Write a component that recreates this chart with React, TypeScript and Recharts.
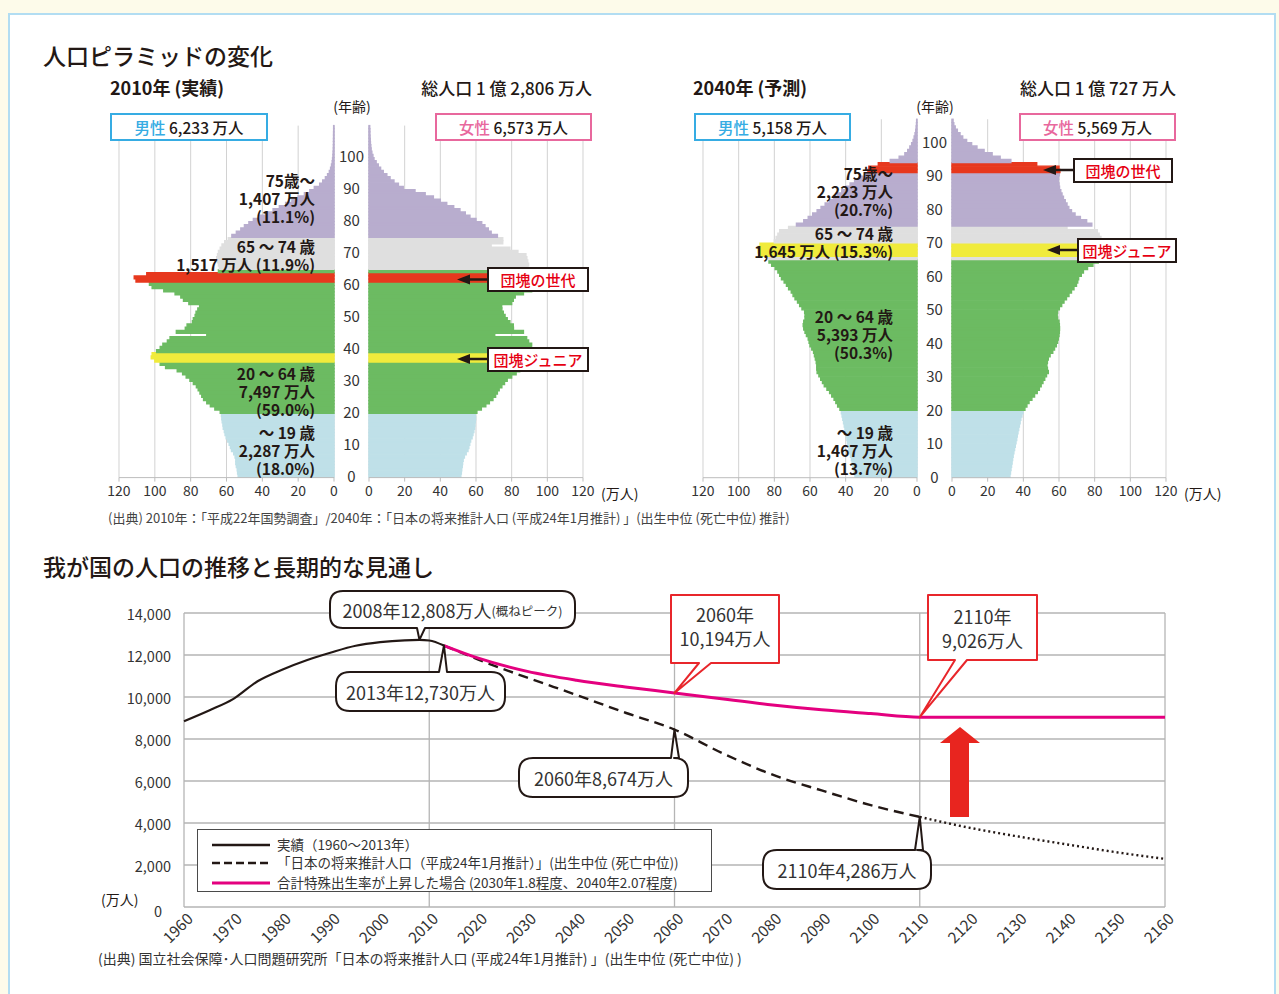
import React from "react";
import {
  Bar,
  BarChart,
  CartesianGrid,
  Cell,
  Line,
  LineChart,
  ReferenceDot,
  ReferenceLine,
  XAxis,
  YAxis,
} from "recharts";

const FONT = '"Noto Sans CJK JP", "Noto Sans", sans-serif';
const INK = "#231815";
const PAGE_W = 1279;

// ---- population pyramid data (万人, single year of age) ----
const AGES_2010 = Array.from({ length: 110 }, (_, i) => i);
const AGES_2040 = Array.from({ length: 107 }, (_, i) => i);

const MALE_2010 = [
  53.5, 53.8, 54.0, 54.5, 54.8, 54.8, 55.2, 56.0, 57.2, 57.8,
  58.5, 59.3, 60.2, 60.8, 61.2, 61.8, 62.0, 62.4, 62.6, 62.8,
  63.5, 66.5, 69.0, 71.0, 72.8, 73.8, 74.8, 75.8, 76.8, 78.5,
  80.4, 82.5, 84.5, 87.5, 94.0, 97.0, 100.0, 102.0, 101.5, 99.0,
  97.0, 95.5, 93.0, 91.5, 71.0, 88.0, 83.0, 82.0, 79.0, 78.5,
  77.5, 77.0, 76.0, 75.0, 81.0, 84.0, 85.5, 88.7, 95.0, 101.5,
  103.0, 110.5, 111.5, 104.5, 64.5, 64.0, 64.5, 65.0, 65.5, 65.0,
  64.5, 63.5, 62.5, 61.0, 59.0, 57.0, 54.5, 52.0, 50.0, 47.5,
  45.0, 42.0, 38.0, 34.0, 30.5, 27.0, 23.5, 20.0, 16.5, 13.5,
  11.0, 8.0, 6.3, 4.8, 3.6, 2.6, 1.9, 1.4, 1.0, 0.8,
  0.6, 0.5, 0.4, 0.35, 0.3, 0.3, 0.25, 0.25, 0.2, 0.2,
];
const FEMALE_2010 = [
  51.5, 51.8, 52.0, 52.3, 52.5, 52.8, 53.5, 54.5, 55.5, 56.0,
  56.5, 57.0, 57.8, 58.3, 58.8, 59.2, 59.4, 59.6, 59.8, 59.6,
  60.5, 63.0, 65.5, 67.5, 69.5, 71.0, 72.0, 73.0, 74.5, 76.0,
  77.5, 80.0, 82.5, 84.5, 86.5, 88.0, 94.0, 97.5, 97.0, 90.5,
  91.0, 91.2, 89.5, 88.4, 70.5, 86.6, 81.0, 80.9, 79.0, 77.5,
  76.3, 75.3, 74.5, 74.4, 80.0, 80.9, 82.0, 86.6, 91.2, 98.0,
  104.0, 110.0, 112.0, 107.0, 72.0, 89.0, 89.5, 89.0, 88.5, 88.0,
  83.5, 79.0, 68.5, 75.0, 75.0, 72.0, 68.5, 66.9, 65.0, 63.2,
  60.0, 56.6, 54.0, 51.0, 47.5, 43.6, 40.0, 36.1, 31.5, 25.8,
  19.2, 16.5, 14.0, 11.8, 10.0, 8.0, 6.5, 5.2, 4.0, 2.8,
  2.2, 1.6, 1.2, 1.0, 0.8, 0.7, 0.6, 0.5, 0.5, 0.4,
];
const MALE_2040 = [
  34.8, 35.2, 35.6, 36.0, 36.4, 36.8, 37.3, 37.8, 38.2, 38.6,
  39.0, 39.3, 39.6, 40.0, 40.4, 40.8, 41.2, 41.6, 42.0, 42.4,
  43.2, 44.5, 45.5, 46.5, 47.8, 49.0, 50.5, 52.0, 53.0, 54.0,
  55.0, 56.0, 56.2, 56.2, 56.5, 57.0, 57.5, 58.0, 59.0, 60.0,
  60.5, 61.0, 62.0, 62.8, 63.5, 63.8, 63.5, 62.8, 62.8, 63.0,
  64.5, 65.8, 67.0, 68.4, 69.5, 70.5, 72.0, 73.2, 74.5, 76.0,
  77.0, 78.0, 79.5, 81.5, 83.0, 83.5, 88.0, 89.0, 89.0, 88.0,
  80.0, 79.0, 78.0, 77.0, 72.0, 67.6, 63.5, 61.0, 58.5, 56.0,
  53.8, 51.5, 49.0, 46.8, 44.5, 42.2, 40.0, 37.5, 35.0, 32.5,
  29.5, 27.5, 27.0, 21.7, 15.0, 10.0, 6.8, 5.2, 4.0, 3.0,
  2.2, 1.6, 1.1, 0.7, 0.5, 0.3, 0.2,
];
const FEMALE_2040 = [
  32.5, 32.8, 33.1, 33.4, 33.7, 34.0, 34.3, 34.7, 35.1, 35.5,
  35.9, 36.3, 36.6, 37.0, 37.4, 37.8, 38.2, 38.6, 39.2, 39.8,
  40.9, 42.0, 43.2, 44.8, 46.3, 47.8, 49.0, 50.0, 51.0, 52.0,
  53.0, 54.0, 53.5, 53.2, 53.5, 54.0, 55.0, 56.5, 57.5, 58.5,
  59.2, 59.6, 60.0, 60.2, 60.3, 60.2, 60.0, 59.2, 59.0, 59.2,
  60.2, 61.5, 62.8, 64.2, 65.6, 67.0, 68.4, 69.8, 70.5, 71.0,
  72.5, 73.7, 76.0, 79.0, 82.0, 84.0, 86.0, 87.0, 87.0, 86.0,
  83.5, 83.5, 82.5, 81.5, 64.5, 78.4, 75.5, 72.0, 69.0, 67.0,
  65.5, 64.5, 63.5, 62.5, 61.7, 61.0, 60.3, 60.0, 59.7, 59.8,
  60.2, 60.5, 60.0, 47.5, 33.0, 27.0, 22.5, 18.0, 14.0, 11.0,
  8.2, 6.0, 4.5, 3.0, 1.8, 1.0, 0.6,
];

// 団塊の世代 / 団塊ジュニア ages in each year
const BOOMER_2010 = [61, 62, 63];
const JUNIOR_2010 = [36, 37, 38];
const BOOMER_2040 = [91, 92, 93];
const JUNIOR_2040 = [66, 67, 68, 69];

const POP_TICKS = [0, 20, 40, 60, 80, 100, 120];

const GROUP_LABELS_2010 = [
  { y: 180, t: "75歳～" }, { y: 198, t: "1,407 万人" }, { y: 216, t: "(11.1%)" },
  { y: 246, t: "65 ～ 74 歳" }, { y: 264, t: "1,517 万人 (11.9%)" },
  { y: 373, t: "20 ～ 64 歳" }, { y: 391, t: "7,497 万人" }, { y: 409, t: "(59.0%)" },
  { y: 432, t: "～ 19 歳" }, { y: 450, t: "2,287 万人" }, { y: 468, t: "(18.0%)" },
];
const GROUP_LABELS_2040 = [
  { y: 173, t: "75歳～" }, { y: 191, t: "2,223 万人" }, { y: 209, t: "(20.7%)" },
  { y: 233, t: "65 ～ 74 歳" }, { y: 251, t: "1,645 万人 (15.3%)" },
  { y: 316, t: "20 ～ 64 歳" }, { y: 334, t: "5,393 万人" }, { y: 352, t: "(50.3%)" },
  { y: 432, t: "～ 19 歳" }, { y: 450, t: "1,467 万人" }, { y: 468, t: "(13.7%)" },
];

// ---- long-term population (万人) ----
const ACTUAL_YEARS = [1960, 1965, 1970, 1975, 1980, 1985, 1990, 1995, 2000, 2005, 2008, 2010, 2013];
const ACTUAL_POP = [8850, 9350, 9900, 10750, 11300, 11750, 12120, 12440, 12610, 12700, 12720, 12690, 12450];
const PROJ_YEARS = [2013, 2020, 2030, 2040, 2050, 2060, 2070, 2080, 2090, 2100, 2110];
const PROJ_POP = [12450, 11780, 10920, 10100, 9250, 8450, 7300, 6300, 5550, 4850, 4290];
const EXT_YEARS = [2110, 2120, 2130, 2140, 2150, 2160];
const EXT_POP = [4290, 3780, 3360, 2980, 2610, 2290];
const RAISED_YEARS = [2013, 2020, 2030, 2040, 2050, 2060, 2070, 2080, 2090, 2100, 2110, 2120, 2130, 2140, 2150, 2160];
const RAISED_POP = [12450, 11850, 11220, 10800, 10480, 10194, 9900, 9620, 9390, 9210, 9040, 9040, 9040, 9040, 9040, 9040];

const YEAR_TICKS = Array.from({ length: 21 }, (_, i) => 1960 + i * 10);
const VALUE_TICKS = [0, 2000, 4000, 6000, 8000, 10000, 12000, 14000];
const GRID_YEARS = [1960, 2010, 2060, 2110, 2160];

const C = {
  young: "#bfe0e8",
  work: "#6cbb62",
  early: "#dfdfdf",
  old: "#b8adce",
  boomer: "#e7381e",
  junior: "#f0eb3c",
  blue: "#36ace3",
  pink: "#e8689d",
  magenta: "#e4007f",
  grid: "#b5b5b5",
};

function ageColor(age: number, boomer: number[], junior: number[]) {
  if (boomer.includes(age)) return C.boomer;
  if (junior.includes(age)) return C.junior;
  if (age < 20) return C.young;
  if (age < 65) return C.work;
  if (age < 75) return C.early;
  return C.old;
}

interface HalfProps {
  ages: number[];
  values: number[];
  male: boolean;
  plotLeft: number;
  plotRight: number;
  plotTop: number;
  plotH: number;
  boomer: number[];
  junior: number[];
}

function PyramidHalf({ ages, values, male, plotLeft, plotRight, plotTop, plotH, boomer, junior }: HalfProps) {
  const ml = male ? 19 : 9;
  const yw = male ? 35 : 0;
  const mr = male ? 0 : 27;
  const left = plotLeft - ml;
  const width = ml + (plotRight - plotLeft) + yw + mr;
  const top = 100;
  const mt = plotTop - top;
  const height = mt + plotH + 30 + 2;
  const gapCenter = plotRight + 17.5 - left;
  const band = plotH / ages.length;
  const rows = ages.map((age, i) => ({ age, v: values[i] }));

  const ageTick = (props: any) => {
    const v = Number(props.payload.value);
    if (v % 10 !== 0 || v > 100) return <g />;
    return (
      <text x={gapCenter} y={props.y} textAnchor="middle" dominantBaseline="central" fontSize={15} fill="#333" fontFamily={FONT}>
        {v}
      </text>
    );
  };

  return (
    <div style={{ position: "absolute", left, top }}>
      <BarChart
        layout="vertical"
        width={width}
        height={height}
        data={rows}
        margin={{ top: mt, right: mr, bottom: 2, left: ml }}
        barCategoryGap={0}
        barGap={0}
      >
        <CartesianGrid horizontal={false} stroke="#d2d2d2" />
        <XAxis
          type="number"
          domain={[0, 120]}
          ticks={POP_TICKS}
          interval={0}
          reversed={male}
          height={30}
          axisLine={{ stroke: "#bdbdbd" }}
          tickLine={{ stroke: "#bdbdbd" }}
          tickSize={4}
          tickMargin={4}
          tick={{ fontSize: 14, fill: "#333", fontFamily: FONT }}
        />
        <YAxis
          type="category"
          dataKey="age"
          reversed
          hide={!male}
          orientation="right"
          width={yw}
          axisLine={false}
          tickLine={false}
          interval={0}
          tick={ageTick}
        />
        <Bar dataKey="v" barSize={band + 1} isAnimationActive={false}>
          {rows.map((r) => {
            const fill = ageColor(r.age, boomer, junior);
            return <Cell key={r.age} fill={fill} stroke={fill} strokeWidth={1.4} />;
          })}
        </Bar>
      </BarChart>
    </div>
  );
}

interface TxtProps {
  x: number;
  y: number;
  size?: number;
  anchor?: "start" | "end" | "middle";
  weight?: number;
  color?: string;
  children: React.ReactNode;
}

function Txt({ x, y, size = 14, anchor = "start", weight = 400, color = INK, children }: TxtProps) {
  const h = Math.round(size * 1.1);
  const style: React.CSSProperties = {
    position: "absolute",
    top: y - h / 2,
    height: h,
    lineHeight: `${h}px`,
    fontSize: size,
    fontWeight: weight,
    color,
    whiteSpace: "nowrap",
    fontFamily: FONT,
  };
  if (anchor === "start") style.left = x;
  else if (anchor === "end") style.right = PAGE_W - x;
  else {
    style.left = x;
    style.transform = "translateX(-50%)";
  }
  return <div style={style}>{children}</div>;
}

function SexBox({ x, w, color, label, value }: { x: number; w: number; color: string; label: string; value: string }) {
  return (
    <div
      style={{
        position: "absolute",
        left: x,
        top: 113,
        width: w,
        height: 28,
        boxSizing: "border-box",
        border: `2px solid ${color}`,
        background: "#fff",
        display: "flex",
        alignItems: "center",
        justifyContent: "center",
        fontFamily: FONT,
        fontSize: 15.5,
        fontWeight: 500,
        color: INK,
        whiteSpace: "nowrap",
      }}
    >
      <span style={{ color }}>{label}</span>&nbsp;{value}
    </div>
  );
}

function TagBox({ x, y, w, h, text }: { x: number; y: number; w: number; h: number; text: string }) {
  return (
    <div
      style={{
        position: "absolute",
        left: x,
        top: y,
        width: w,
        height: h,
        boxSizing: "border-box",
        border: `2px solid ${INK}`,
        background: "#fff",
        display: "flex",
        alignItems: "center",
        justifyContent: "center",
        fontFamily: FONT,
        fontSize: 15,
        fontWeight: 500,
        color: "#e60012",
        whiteSpace: "nowrap",
      }}
    >
      {text}
    </div>
  );
}

// ---- line chart helpers ----
const LC_LEFT = 0;
const LC_TOP = 560;

function yearRows() {
  const years = Array.from(new Set([...ACTUAL_YEARS, ...PROJ_YEARS, ...EXT_YEARS, ...RAISED_YEARS])).sort((a, b) => a - b);
  const pick = (ys: number[], vs: number[], y: number) => {
    const i = ys.indexOf(y);
    return i >= 0 ? vs[i] : undefined;
  };
  return years.map((year) => ({
    year,
    actual: pick(ACTUAL_YEARS, ACTUAL_POP, year),
    proj: pick(PROJ_YEARS, PROJ_POP, year),
    ext: pick(EXT_YEARS, EXT_POP, year),
    raised: pick(RAISED_YEARS, RAISED_POP, year),
  }));
}

function calloutPath(L: number, T: number, R: number, B: number, r: number, side: string, b1: number, b2: number, tx: number, ty: number) {
  if (side === "bottom") {
    return `M${L + r},${T} H${R - r} Q${R},${T} ${R},${T + r} V${B - r} Q${R},${B} ${R - r},${B} H${b2} L${tx},${ty} L${b1},${B} H${L + r} Q${L},${B} ${L},${B - r} V${T + r} Q${L},${T} ${L + r},${T} Z`;
  }
  return `M${L + r},${T} H${b1} L${tx},${ty} L${b2},${T} H${R - r} Q${R},${T} ${R},${T + r} V${B - r} Q${R},${B} ${R - r},${B} H${L + r} Q${L},${B} ${L},${B - r} V${T + r} Q${L},${T} ${L + r},${T} Z`;
}

interface CalloutDef {
  year: number;
  value: number;
  box: [number, number, number, number];
  base: [number, number];
  side: "top" | "bottom";
  r: number;
  stroke: string;
  lines: { y: number; parts: { t: string; size: number }[] }[];
}

const valAt = (ys: number[], vs: number[], y: number) => vs[ys.indexOf(y)];

const CALLOUTS: CalloutDef[] = [
  {
    year: 2008, value: valAt(ACTUAL_YEARS, ACTUAL_POP, 2008),
    box: [330, 591, 575, 628], base: [417, 425], side: "bottom", r: 13, stroke: INK,
    lines: [{ y: 610, parts: [{ t: "2008年12,808万人", size: 18 }, { t: "(概ねピーク)", size: 12.5 }] }],
  },
  {
    year: 2013, value: valAt(ACTUAL_YEARS, ACTUAL_POP, 2013),
    box: [336, 672, 505, 711], base: [439, 447], side: "top", r: 14, stroke: INK,
    lines: [{ y: 692, parts: [{ t: "2013年12,730万人", size: 18 }] }],
  },
  {
    year: 2060, value: valAt(PROJ_YEARS, PROJ_POP, 2060),
    box: [519, 758, 688, 797], base: [671, 679], side: "top", r: 14, stroke: INK,
    lines: [{ y: 778, parts: [{ t: "2060年8,674万人", size: 18 }] }],
  },
  {
    year: 2110, value: valAt(PROJ_YEARS, PROJ_POP, 2110),
    box: [763, 850, 931, 889], base: [915, 923], side: "top", r: 14, stroke: INK,
    lines: [{ y: 870, parts: [{ t: "2110年4,286万人", size: 18 }] }],
  },
  {
    year: 2060, value: valAt(RAISED_YEARS, RAISED_POP, 2060),
    box: [671, 595, 779, 663], base: [699, 711], side: "bottom", r: 0, stroke: "#e8262b",
    lines: [
      { y: 614, parts: [{ t: "2060年", size: 18 }] },
      { y: 638, parts: [{ t: "10,194万人", size: 18 }] },
    ],
  },
  {
    year: 2110, value: valAt(RAISED_YEARS, RAISED_POP, 2110),
    box: [928, 595, 1037, 660], base: [955, 967], side: "bottom", r: 0, stroke: "#e8262b",
    lines: [
      { y: 616, parts: [{ t: "2110年", size: 18 }] },
      { y: 640, parts: [{ t: "9,026万人", size: 18 }] },
    ],
  },
];

function makeCalloutShape(c: CalloutDef) {
  return (props: any) => {
    const { cx, cy } = props;
    const [L, T, R, B] = c.box.map((v, i) => (i % 2 === 0 ? v - LC_LEFT : v - LC_TOP));
    const b1 = c.base[0] - LC_LEFT;
    const b2 = c.base[1] - LC_LEFT;
    const mid = (L + R) / 2;
    return (
      <g>
        <path d={calloutPath(L, T, R, B, c.r, c.side, b1, b2, cx, cy)} fill="#fff" stroke={c.stroke} strokeWidth={2} strokeLinejoin="round" />
        {c.lines.map((ln, i) => (
          <text key={i} x={mid} y={ln.y - LC_TOP} textAnchor="middle" dominantBaseline="central" fill="#333" fontFamily={FONT}>
            {ln.parts.map((p, j) => (
              <tspan key={j} fontSize={p.size}>{p.t}</tspan>
            ))}
          </text>
        ))}
      </g>
    );
  };
}

const YearTick = (props: any) => {
  const { x, y, payload } = props;
  const tx = x + 10;
  const ty = y + 11;
  return (
    <text x={tx} y={ty} transform={`rotate(-45 ${tx} ${ty})`} textAnchor="end" fontSize={15.5} fill="#333" fontFamily={FONT}>
      {payload.value}
    </text>
  );
};

const ValueTick = (props: any) => {
  const { x, y, payload } = props;
  const v = Number(payload.value);
  return (
    <text x={v === 0 ? x - 9 : x} y={v === 0 ? y + 3 : y} textAnchor="end" dominantBaseline="central" fontSize={14.5} fill="#333" fontFamily={FONT}>
      {v.toLocaleString("en-US")}
    </text>
  );
};

function PopulationTrend() {
  const rows = yearRows();
  return (
    <div style={{ position: "absolute", left: LC_LEFT, top: LC_TOP }}>
      <LineChart width={1279} height={420} data={rows} margin={{ top: 53, right: 114, bottom: 23, left: 124 }}>
        <CartesianGrid vertical={false} stroke={C.grid} strokeWidth={1.3} />
        {GRID_YEARS.map((y) => (
          <ReferenceLine key={y} x={y} stroke={C.grid} strokeWidth={1.3} />
        ))}
        <XAxis
          type="number"
          dataKey="year"
          domain={[1960, 2160]}
          ticks={YEAR_TICKS}
          interval={0}
          height={50}
          axisLine={false}
          tickLine={false}
          tickSize={0}
          tick={YearTick}
        />
        <YAxis
          type="number"
          domain={[0, 14000]}
          ticks={VALUE_TICKS}
          interval={0}
          width={60}
          axisLine={false}
          tickLine={false}
          tickSize={0}
          tickMargin={13}
          tick={ValueTick}
        />
        <Line dataKey="actual" type="monotone" stroke={INK} strokeWidth={2.2} dot={false} connectNulls isAnimationActive={false} />
        <Line dataKey="proj" type="monotone" stroke={INK} strokeWidth={2.4} strokeDasharray="10 6" dot={false} connectNulls isAnimationActive={false} />
        <Line dataKey="ext" type="monotone" stroke={INK} strokeWidth={2.4} strokeDasharray="2 3" dot={false} connectNulls isAnimationActive={false} />
        <Line dataKey="raised" type="monotone" stroke={C.magenta} strokeWidth={3} dot={false} connectNulls isAnimationActive={false} />
        {CALLOUTS.map((c, i) => (
          <ReferenceDot key={i} x={c.year} y={c.value} r={1} shape={makeCalloutShape(c)} />
        ))}
      </LineChart>
    </div>
  );
}

function Legend() {
  const rows = [
    { y: 16, stroke: INK, dash: undefined as string | undefined, w: 2.5, t: "実績（1960～2013年）" },
    { y: 34, stroke: INK, dash: "8 4", w: 2.5, t: "「日本の将来推計人口（平成24年1月推計）」(出生中位 (死亡中位))" },
    { y: 54, stroke: C.magenta, dash: undefined, w: 3.2, t: "合計特殊出生率が上昇した場合 (2030年1.8程度、2040年2.07程度)" },
  ];
  return (
    <div
      style={{
        position: "absolute",
        left: 197,
        top: 829,
        width: 515,
        height: 63,
        boxSizing: "border-box",
        border: "1.5px solid #4a4a4a",
        background: "#fff",
      }}
    >
      <svg width={515} height={63} style={{ position: "absolute", left: -1.5, top: -1.5 }}>
        {rows.map((r, i) => (
          <line key={i} x1={15} x2={73} y1={r.y} y2={r.y} stroke={r.stroke} strokeWidth={r.w} strokeDasharray={r.dash} />
        ))}
      </svg>
      {rows.map((r, i) => (
        <div
          key={i}
          style={{
            position: "absolute",
            left: 79,
            top: r.y - 10,
            height: 17,
            lineHeight: "17px",
            fontSize: 13.5,
            color: "#333",
            fontFamily: FONT,
            whiteSpace: "nowrap",
          }}
        >
          {r.t}
        </div>
      ))}
    </div>
  );
}

function Arrows() {
  const arrows = [
    { x1: 487, x2: 457, y: 279.5 },
    { x1: 487, x2: 457, y: 359 },
    { x1: 1073, x2: 1043, y: 170 },
    { x1: 1077, x2: 1047, y: 250 },
  ];
  return (
    <svg width={PAGE_W} height={994} style={{ position: "absolute", left: 0, top: 0, pointerEvents: "none" }}>
      {arrows.map((a, i) => (
        <g key={i}>
          <line x1={a.x1} x2={a.x2 + 8} y1={a.y} y2={a.y} stroke={INK} strokeWidth={2.5} />
          <polygon points={`${a.x2},${a.y} ${a.x2 + 13},${a.y - 5} ${a.x2 + 13},${a.y + 5}`} fill={INK} />
        </g>
      ))}
      <polygon points="950,817 969,817 969,743 980,743 960,727 940,743 950,743" fill="#e8251f" />
    </svg>
  );
}

export default function App() {
  return (
    <div style={{ position: "absolute", left: 0, top: 0, width: PAGE_W, height: 994, background: "#fdfbea", overflow: "hidden", fontFamily: FONT }}>
      <div
        style={{
          position: "absolute",
          left: 8,
          top: 13,
          width: 1268,
          height: 1000,
          boxSizing: "border-box",
          border: "2px solid #b2ddf2",
          background: "#fff",
        }}
      />

      <PyramidHalf ages={AGES_2010} values={MALE_2010} male plotLeft={119} plotRight={334} plotTop={125.6} plotH={352} boomer={BOOMER_2010} junior={JUNIOR_2010} />
      <PyramidHalf ages={AGES_2010} values={FEMALE_2010} male={false} plotLeft={369} plotRight={583} plotTop={125.6} plotH={352} boomer={BOOMER_2010} junior={JUNIOR_2010} />
      <PyramidHalf ages={AGES_2040} values={MALE_2040} male plotLeft={703} plotRight={917} plotTop={119.25} plotH={358.45} boomer={BOOMER_2040} junior={JUNIOR_2040} />
      <PyramidHalf ages={AGES_2040} values={FEMALE_2040} male={false} plotLeft={952} plotRight={1166} plotTop={119.25} plotH={358.45} boomer={BOOMER_2040} junior={JUNIOR_2040} />

      <PopulationTrend />

      <Txt x={43} y={55} size={23} weight={500}>人口ピラミッドの変化</Txt>
      <Txt x={110} y={87} size={18} weight={600}>2010年 (実績)</Txt>
      <Txt x={592} y={87} size={17} weight={500} anchor="end">総人口 1 億 2,806 万人</Txt>
      <Txt x={693} y={87} size={18} weight={600}>2040年 (予測)</Txt>
      <Txt x={1176} y={87} size={17} weight={500} anchor="end">総人口 1 億 727 万人</Txt>
      <Txt x={352} y={106} size={14} anchor="middle">(年齢)</Txt>
      <Txt x={935} y={106} size={14} anchor="middle">(年齢)</Txt>

      <SexBox x={110} w={158} color={C.blue} label="男性" value="6,233 万人" />
      <SexBox x={435} w={157} color={C.pink} label="女性" value="6,573 万人" />
      <SexBox x={694} w={157} color={C.blue} label="男性" value="5,158 万人" />
      <SexBox x={1019} w={157} color={C.pink} label="女性" value="5,569 万人" />

      {GROUP_LABELS_2010.map((g, i) => (
        <Txt key={`a${i}`} x={315} y={g.y} size={15.5} weight={600} anchor="end">{g.t}</Txt>
      ))}
      {GROUP_LABELS_2040.map((g, i) => (
        <Txt key={`b${i}`} x={893} y={g.y} size={15.5} weight={600} anchor="end">{g.t}</Txt>
      ))}

      <TagBox x={487} y={267} w={102} h={25} text="団塊の世代" />
      <TagBox x={487} y={347} w={102} h={25} text="団塊ジュニア" />
      <TagBox x={1073} y={158} w={100} h={25} text="団塊の世代" />
      <TagBox x={1077} y={238} w={100} h={25} text="団塊ジュニア" />

      <Txt x={601} y={493} size={14}>(万人)</Txt>
      <Txt x={1184} y={493} size={14}>(万人)</Txt>

      <Txt x={108} y={518} size={13} color="#444">
        (出典) 2010年：「平成22年国勢調査」/2040年：「日本の将来推計人口 (平成24年1月推計) 」(出生中位 (死亡中位) 推計)
      </Txt>
      <Txt x={43} y={566} size={23} weight={500}>我が国の人口の推移と長期的な見通し</Txt>
      <Txt x={101} y={899} size={14}>(万人)</Txt>
      <Legend />
      <Txt x={98} y={958} size={14} color="#333">
        (出典) 国立社会保障･人口問題研究所「日本の将来推計人口 (平成24年1月推計) 」(出生中位 (死亡中位) )
      </Txt>

      <Arrows />
    </div>
  );
}
